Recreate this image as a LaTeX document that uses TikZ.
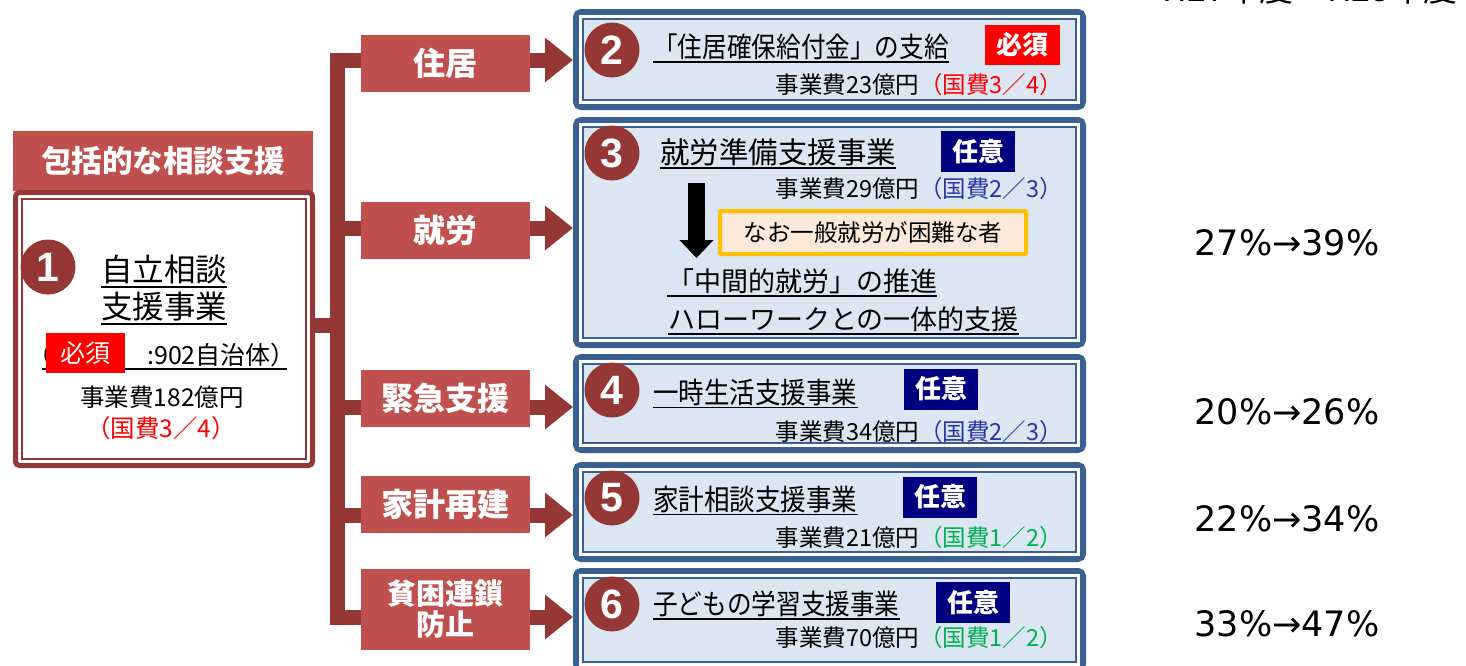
\documentclass[tikz,border=0pt]{standalone}
\usepackage{fontspec}
\setmainfont{Noto Sans CJK JP}
\newfontfamily\jpc[FakeStretch=0.88]{Noto Sans CJK JP}
\newfontfamily\numfont{Liberation Sans}
\newfontfamily\pctfont{DejaVu Sans}
\usetikzlibrary{arrows.meta}
\newcommand\fsz[1]{\fontsize{#1}{#1}\selectfont}
\definecolor{lblred}{HTML}{C0504D}
\definecolor{dred}{HTML}{953735}
\definecolor{bborder}{HTML}{3A6091}
\definecolor{bfill}{HTML}{DCE6F2}
\definecolor{navy}{HTML}{000080}
\definecolor{kblue}{HTML}{2A36A8}
\definecolor{kgreen}{HTML}{00B050}
\definecolor{obord}{HTML}{FFC000}
\definecolor{ofill}{HTML}{FDE9D9}
\newcommand\bluein[1]{%
  \draw[white,line width=3pt] ([shift={(7.5pt,-7.5pt)}]#1.north west) rectangle ([shift={(-7.5pt,7.5pt)}]#1.south east);
  \draw[bborder,line width=1.8pt] ([shift={(10pt,-10pt)}]#1.north west) rectangle ([shift={(-10pt,10pt)}]#1.south east);}
\begin{document}
\begin{tikzpicture}[x=1pt,y=-1pt,
  lbl/.style={fill=lblred,text=white,font=\fsz{32}\bfseries,minimum width=169pt,minimum height=57pt,inner sep=0pt,align=center},
  bbox/.style={draw=bborder,line width=6pt,fill=bfill,rounded corners=5pt,inner sep=0pt,minimum width=507pt},
  circ/.style={circle,fill=dred,text=white,minimum size=55pt,inner sep=0pt,font=\numfont\fsz{41}\bfseries},
  tagbox/.style={fill=navy,text=white,font=\fsz{26}\bfseries,minimum width=74pt,minimum height=41pt,inner sep=0pt},
  mustbox/.style={fill=red,text=white,font=\fsz{26}\bfseries,minimum width=75pt,minimum height=40pt,inner sep=0pt},
  ttl/.style={anchor=west,inner sep=0pt,font=\fsz{29}},
  ttlc/.style={anchor=west,inner sep=0pt,font=\jpc\fsz{29}},
  cost/.style={anchor=east,inner sep=0pt,font=\fsz{23.5}},
  ulline/.style={line width=1.6pt,black},
  trunk/.style={draw=dred,line width=15pt},
  bigarrow/.style={draw=dred,line width=15pt,-{Triangle[length=28pt,width=43pt]}},
  pct/.style={inner sep=0pt,font=\pctfont\fsz{35}}]
\useasboundingbox (0,0) rectangle (1466,665);
\clip (0,0) rectangle (1466,665);
\fill[white] (0,0) rectangle (1466,665);

% ---------- left block ----------
\node[lbl,minimum width=300pt,minimum height=60pt,font=\fsz{30.5}\bfseries] (H1) at (163,160.5) {包括的な相談支援};
\node[draw=dred,line width=5pt,fill=white,rounded corners=4pt,minimum width=297pt,minimum height=273pt,inner sep=0pt] (B1) at (164,329) {};
\draw[dred,line width=2pt] ([shift={(9pt,-9pt)}]B1.north west) rectangle ([shift={(-9pt,9pt)}]B1.south east);
\node[circ] (C1) at (48,267) {1};
\node[inner sep=0pt,font=\fsz{31.5}] (T1a) at (164,270) {自立相談};
\node[inner sep=0pt,font=\fsz{31.5}] (T1b) at (164,307) {支援事業};
\draw[ulline] ([yshift=-2pt]T1a.south west) -- ([yshift=-2pt]T1a.south east);
\draw[ulline] ([yshift=-2pt]T1b.south west) -- ([yshift=-2pt]T1b.south east);
\node[anchor=west,inner sep=0pt,font=\fsz{25}] (T1p) at (27,355) {（};
\node[anchor=east,inner sep=0pt,font=\fsz{25}] (T1c) at (296,355) {:902自治体）};
\coordinate (u1a) at (42,369);
\coordinate (u1b) at (287,369);
\draw[ulline] (u1a) -- (u1b);
\node[mustbox,minimum width=79pt,font=\fsz{25}] (R1) at (85.5,353) {必須};
\node[inner sep=0pt,font=\fsz{24.5}] (K1a) at (162,397) {事業費182億円};
\node[inner sep=0pt,font=\fsz{24.5},text=red] (K1b) at (161,428) {（国費3／4）};

% ---------- trunk and branches ----------
\node[lbl] (L2) at (445.5,63.5) {住居};
\node[lbl] (L3) at (445.5,230.5) {就労};
\node[lbl] (L4) at (445.5,398.5) {緊急支援};
\node[lbl] (L5) at (445.5,504.5) {家計再建};
\node[lbl,minimum height=81pt,font=\fontsize{29}{31}\selectfont\bfseries] (L6) at (445.5,609) {貧困連鎖\\防止};

\coordinate (jt) at (337,60);
\coordinate (j3) at (337,228);
\coordinate (j4) at (337,407);
\coordinate (j5) at (337,515);
\coordinate (jb) at (337,617);
\coordinate (js) at (337,325);
\draw[trunk] (L2.west |- jt) -- (jt) -- (jb) -- (L6.west |- jb);
\draw[trunk] (B1.east |- js) -- (js);
\draw[trunk] (j3) -- (L3.west |- j3);
\draw[trunk] (j4) -- (L4.west |- j4);
\draw[trunk] (j5) -- (L5.west |- j5);

% ---------- blue boxes ----------
\node[bbox,minimum height=95pt] (B2) at (829.5,59.5) {};
\node[bbox,minimum height=225pt] (B3) at (829.5,232.5) {};
\node[bbox,minimum height=93pt] (B4) at (829.5,403.5) {};
\node[bbox,minimum height=94pt] (B5) at (829.5,512) {};
\node[bbox,minimum height=98pt] (B6) at (829.5,620) {};
\bluein{B2}\bluein{B3}\bluein{B4}\bluein{B5}\bluein{B6}

\draw[bigarrow] (L2.east |- jt) -- (B2.west |- jt);
\draw[bigarrow] (L3.east |- j3) -- (B3.west |- j3);
\draw[bigarrow] (L4.east |- j4) -- (B4.west |- j4);
\draw[bigarrow] (L5.east |- j5) -- (B5.west |- j5);
\draw[bigarrow] (L6.east |- jb) -- (B6.west |- jb);

% box 2
\node[circ] (C2) at (612,50) {2};
\node[ttlc,font=\jpc\fsz{28}] (T2) at (653,47) {「住居確保給付金」の支給};
\draw[ulline] ([yshift=-2pt]T2.south west) -- ([yshift=-2pt]T2.south east);
\node[mustbox] (M2) at (1022.5,45) {必須};
\node[cost] (K2) at (1063,85) {事業費23億円\textcolor{red}{（国費3／4）}};

% box 3
\node[circ] (C3) at (612,153) {3};
\node[ttl,font=\fsz{29.5}] (T3) at (660,152) {就労準備支援事業};
\draw[ulline] ([yshift=-2pt]T3.south west) -- ([yshift=-2pt]T3.south east);
\node[tagbox] (N3) at (978,151.5) {任意};
\node[cost] (K3) at (1063,189) {事業費29億円\textcolor{kblue}{（国費2／3）}};
\coordinate (da1) at (696.5,183);
\coordinate (da2) at (696.5,258);
\draw[line width=17pt,-{Triangle[length=18pt,width=33pt]}] (da1) -- (da2);
\node[draw=obord,line width=4pt,fill=ofill,minimum width=306pt,minimum height=43pt,inner sep=0pt,rounded corners=1pt,font=\fsz{23.5}] (O3) at (873,232.5) {なお一般就労が困難な者};
\node[ttl,font=\fsz{27}] (T3b) at (667,281) {「中間的就労」の推進};
\draw[ulline] ([yshift=-2pt]T3b.south west) -- ([yshift=-2pt]T3b.south east);
\node[ttl,font=\fsz{27}] (T3c) at (668,319) {ハローワークとの一体的支援};
\draw[ulline] ([yshift=-2pt]T3c.south west) -- ([yshift=-2pt]T3c.south east);

% box 4
\node[circ] (C4) at (612,390) {4};
\node[ttlc] (T4) at (653,392) {一時生活支援事業};
\draw[ulline] ([yshift=-2pt]T4.south west) -- ([yshift=-2pt]T4.south east);
\node[tagbox] (N4) at (941,389) {任意};
\node[cost] (K4) at (1063,432) {事業費34億円\textcolor{kblue}{（国費2／3）}};

% box 5
\node[circ] (C5) at (612,498) {5};
\node[ttlc] (T5) at (653,499) {家計相談支援事業};
\draw[ulline] ([yshift=-2pt]T5.south west) -- ([yshift=-2pt]T5.south east);
\node[tagbox] (N5) at (940,497) {任意};
\node[cost] (K5) at (1063,538) {事業費21億円\textcolor{kgreen}{（国費1／2）}};

% box 6
\node[circ] (C6) at (612,604) {6};
\node[ttlc,font=\jpc\fsz{28}] (T6) at (653,604) {子どもの学習支援事業};
\draw[ulline] ([yshift=-2pt]T6.south west) -- ([yshift=-2pt]T6.south east);
\node[tagbox] (N6) at (973,602.5) {任意};
\node[cost] (K6) at (1063,638) {事業費70億円\textcolor{kgreen}{（国費1／2）}};

% ---------- right column ----------
\node[anchor=south,inner sep=0pt,font=\fsz{34}] (HY) at (1310,4) {H27年度→H28年度};
\node[pct] (P3) at (1287,243) {27\%→39\%};
\node[pct] (P4) at (1287,412) {20\%→26\%};
\node[pct] (P5) at (1287,519) {22\%→34\%};
\node[pct] (P6) at (1287,624) {33\%→47\%};
\end{tikzpicture}
\end{document}
